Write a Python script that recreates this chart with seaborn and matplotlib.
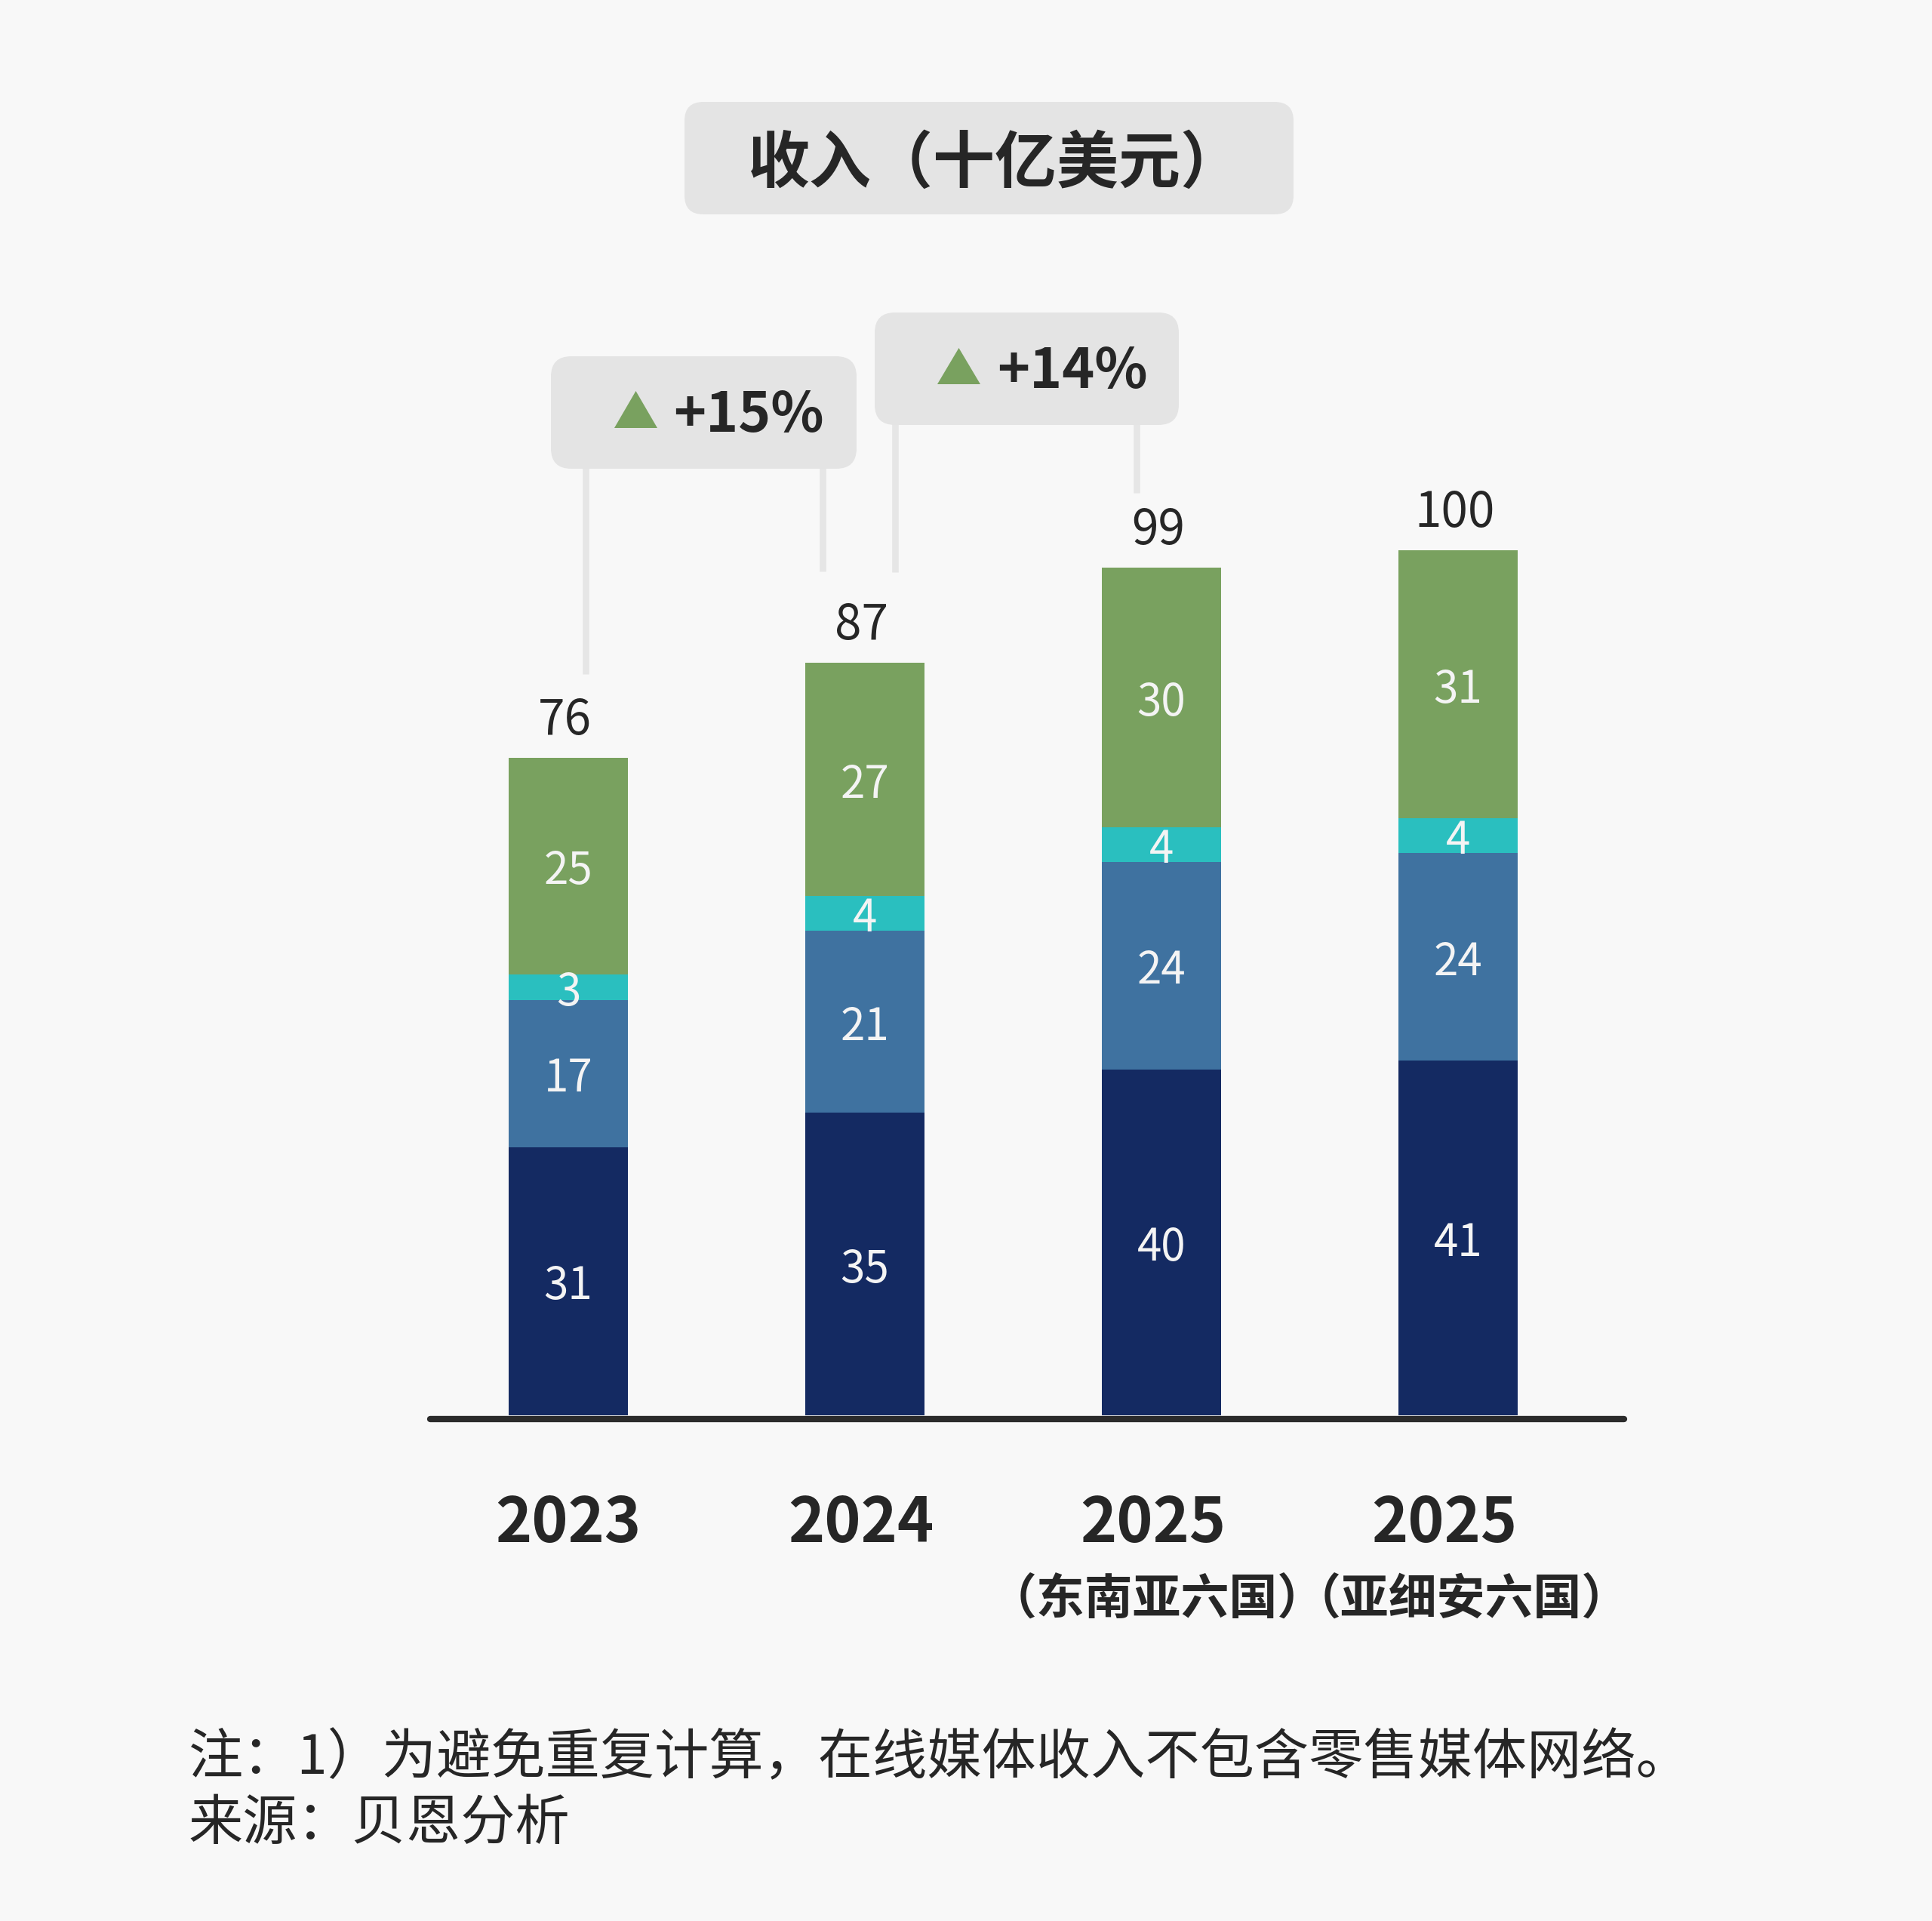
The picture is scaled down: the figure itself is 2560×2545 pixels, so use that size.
import numpy as np
import pandas as pd
import matplotlib
matplotlib.use("Agg")
import matplotlib.pyplot as plt
import matplotlib.transforms as mtransforms
from matplotlib.patches import FancyBboxPatch, Polygon
from matplotlib.lines import Line2D
import seaborn as sns

# ---------------- data ----------------
categories = ["2023", "2024", "2025（东南亚六国）", "2025（亚细安六国）"]
year_labels = ["2023", "2024", "2025", "2025"]
sub_labels = ["", "", "（东南亚六国）", "（亚细安六国）"]
seg_navy = [31, 35, 40, 41]
seg_blue = [17, 21, 24, 24]
seg_teal = [3, 4, 4, 4]
seg_green = [25, 27, 30, 31]
totals = [76, 87, 99, 100]
growth_labels = ["+15%", "+14%"]
title_text = "收入（十亿美元）"
note_lines = ["注：1）为避免重复计算，在线媒体收入不包含零售媒体网络。", "来源：贝恩分析"]

# ---------------- style ----------------
BG = "#f8f8f8"
TXT = "#262626"
colors = ["#142a62", "#3f72a0", "#2abfbf", "#79a15f"]
BOX = "#e4e4e4"
LINE = "#e6e6e6"

sns.set_style("white")
plt.rcParams["font.family"] = ["Noto Sans CJK SC", "DejaVu Sans"]

W, H = 2560, 2545
PXU = 11.46  # pixels per unit
fig = plt.figure(figsize=(W / 100, H / 100), dpi=100, facecolor=BG)
ax = fig.add_axes([570 / W, (H - 1875) / H, 1582 / W, 130 * PXU / H])
ax.set_facecolor("none")

# pixel (from top-left) transform
T = mtransforms.Affine2D().scale(1 / W, -1 / H).translate(0, 1) + fig.transFigure

segs = np.array([seg_navy, seg_blue, seg_teal, seg_green], dtype=float)
cum = np.cumsum(segs, axis=0)
for i in reversed(range(4)):
    sns.barplot(x=categories, y=cum[i], order=categories, color=colors[i],
                width=0.4, saturation=1, errorbar=None, linewidth=0, ax=ax)

ax.set_xlim(-0.4656, 3.5598)
ax.set_ylim(0, 130)
for s in ax.spines.values():
    s.set_visible(False)
ax.set_yticks([])
ax.set_xlabel("")
ax.set_ylabel("")
ax.axhline(-0.44, color="#2b2b2b", lw=6.0, clip_on=False, zorder=5)

# segment labels
bottoms = cum - segs
for i in range(4):
    for j in range(4):
        ax.annotate(f"{int(segs[i][j])}", (j, bottoms[i][j] + segs[i][j] / 2),
                    xytext=(0, -0.366 * 42 - 2), textcoords="offset points",
                    ha="center", va="baseline", fontsize=42, color="#f4f4f4", zorder=6)
# totals
for j in range(4):
    ax.annotate(f"{totals[j]}", (j, cum[3][j]), xytext=(-3, 22), textcoords="offset points",
                ha="center", va="baseline", fontsize=46, color=TXT, zorder=6)

# x tick labels (positioned as in the original layout)
ax.tick_params(axis="x", length=0, pad=121)
ax.set_xticks([0, 0.988, 1.971, 2.954])
ax.set_xticklabels(year_labels, fontsize=59, fontweight="bold", color=TXT, va="baseline")

bt = mtransforms.blended_transform_factory(ax.transData, T)
sub_pos = [0, 1, 1.985, 3.01]
for j, s in enumerate(sub_labels):
    if s:
        ax.text(sub_pos[j], 2139, s, transform=bt, ha="center", va="baseline", fontsize=46,
                fontweight="bold", color=TXT, clip_on=False)

# title
fig.add_artist(FancyBboxPatch((907, 135), 807, 149, boxstyle="round,pad=0,rounding_size=25",
                              transform=T, fc=BOX, ec="none", zorder=2))
fig.text(1318, 242, title_text, transform=T, ha="center", va="baseline", fontsize=59,
         fontweight="bold", color=TXT, zorder=3)

# growth callouts
connectors = [(776, 546, 893), (1090, 546, 757), (1186, 488, 758), (1506, 488, 653)]
for x, y0, y1 in connectors:
    fig.add_artist(Line2D([x, x], [y0, y1], transform=T, color=LINE, lw=6.2, zorder=1,
                          solid_capstyle="butt"))
boxes = [(730, 472, 405, 149), (1159, 414, 403, 149)]
tris = [(814, 871, 518, 567), (1242, 1299, 461, 509)]
gtext = [(892, 572), (1321, 514)]
for k in range(2):
    bx, by, bw, bh = boxes[k]
    fig.add_artist(FancyBboxPatch((bx, by), bw, bh, boxstyle="round,pad=0,rounding_size=27",
                                  transform=T, fc=BOX, ec="none", zorder=2))
    x0, x1, yt, yb = tris[k]
    fig.add_artist(Polygon([[x0, yb], [x1, yb], [(x0 + x1) / 2, yt]], closed=True,
                           transform=T, fc=colors[3], ec="none", zorder=3))
    fig.text(gtext[k][0], gtext[k][1], growth_labels[k], transform=T, ha="left",
             va="baseline", fontsize=52.5, fontweight="bold", color=TXT, zorder=3)

# notes
fig.text(250, 2350, note_lines[0], transform=T, ha="left", va="baseline", fontsize=52, color=TXT)
fig.text(250, 2437, note_lines[1], transform=T, ha="left", va="baseline", fontsize=52, color=TXT)

fig.savefig("out.png", dpi=100, facecolor=BG)
